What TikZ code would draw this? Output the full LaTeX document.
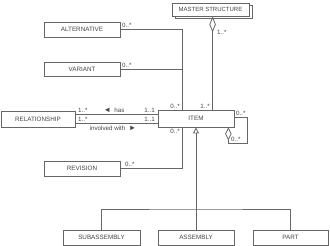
\documentclass[tikz,border=0pt]{standalone}
\usepackage{fontspec}
\setmainfont{Liberation Sans}
\usetikzlibrary{arrows.meta}
\definecolor{ln}{HTML}{666666}
\definecolor{tx}{HTML}{444444}
\begin{document}
\begin{tikzpicture}[x=1pt,y=-1pt,
  every node/.style={font=\fontsize{6.3}{7}\selectfont, text=tx, inner sep=0pt},
  cls/.style={draw=ln, line width=0.8pt, fill=white, minimum width=76pt, minimum height=15pt},
  conn/.style={draw=ln, line width=0.8pt},
  lbl/.style={font=\fontsize{6.2}{7}\selectfont, text=tx}]
\useasboundingbox (0,0) rectangle (330,246);
% classes
\node[cls, minimum width=77pt, minimum height=13pt] (msb) at (213.5,11.5) {};
\node[cls, minimum width=77pt, minimum height=13pt, font=\fontsize{6}{7}\selectfont] (ms) at (210.5,9.5) {MASTER STRUCTURE};
\node[cls] (alt) at (82,29.5) {ALTERNATIVE};
\node[cls, minimum height=14pt] (var) at (82,69.5) {VARIANT};
\node[cls, minimum width=74pt, minimum height=16pt] (rel) at (38,119) {RELATIONSHIP};
\node[cls, minimum height=17pt] (item) at (196,118.5) {ITEM};
\node[cls] (rev) at (82,168.5) {REVISION};
\node[cls, minimum width=77pt] (sub) at (101.5,237.5) {SUBASSEMBLY};
\node[cls] (asm) at (196,237.5) {ASSEMBLY};
\node[cls, minimum width=75pt] (part) at (290.5,237.5) {PART};
% junction coordinates
\coordinate (jt) at ([xshift=25pt]item.north west);
\coordinate (jb) at ([xshift=25pt]item.south west);
\coordinate (jm) at ([xshift=55pt]item.north west);
\coordinate (g) at (196,209);
% connectors
\draw[conn] (alt.east) -| (jt);
\draw[conn] (var.east) -- (var.east -| jt);
\draw[conn] (rev.east) -| (jb);
\draw[conn, {Diamond[open,length=16pt,width=6.5pt]}-] (ms.south -| jm) -- (jm);
\draw[conn, {Diamond[open,length=13pt,width=6.5pt]}-] ([xshift=-6pt]item.south east) -- ++(0,16) -- ++(19,0) |- ([yshift=1.5pt]item.east);
\draw[conn, -{Triangle[open,length=6pt,width=6pt]}] (asm.north) -- (item.south);
\draw[conn] (sub.north) |- (g) -| (part.north);
\draw[conn] ([yshift=5pt]rel.east) -- ([yshift=5pt]rel.east -| item.west);
\draw[conn] ([yshift=-4pt]rel.east) -- ([yshift=-4pt]rel.east -| item.west);
% multiplicities
\node[lbl, anchor=south west] at (122,27.5) {0..*};
\node[lbl, anchor=south west] at (122,67.5) {0..*};
\node[lbl, anchor=south west] at (125,166.5) {0..*};
\node[lbl, anchor=south east] at (180,108.5) {0..*};
\node[lbl, anchor=south east] at (210,108.5) {1..*};
\node[lbl, anchor=west] at (217,32) {1..*};
\node[lbl, anchor=south west] at (236,115.5) {0..*};
\node[lbl, anchor=south west] at (231,141.5) {0..*};
\node[lbl, anchor=north east] at (180,129) {0..*};
\node[lbl, anchor=south west] at (78,113) {1..*};
\node[lbl, anchor=south] at (114,113) {{\fontsize{7.5}{7}\selectfont ◄}\ \ has};
\node[lbl, anchor=south east] at (155,113) {1..1};
\node[lbl, anchor=south west] at (78,122) {1..*};
\node[lbl, anchor=south east] at (155,122) {1..1};
\node[lbl, anchor=north] at (113,125.5) {involved with\ \ {\fontsize{7.5}{7}\selectfont ►}};
\end{tikzpicture}
\end{document}
